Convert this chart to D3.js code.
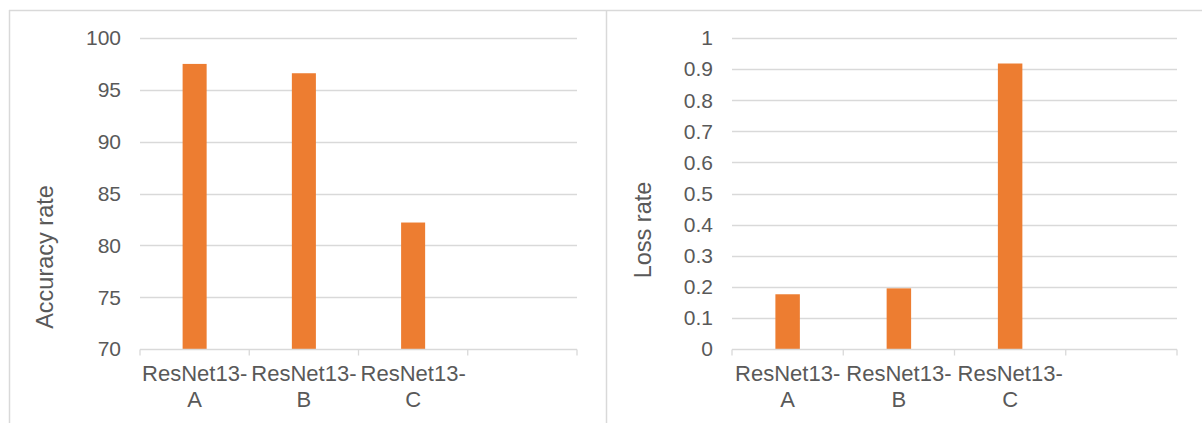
<!DOCTYPE html>
<html>
<head>
<meta charset="utf-8">
<script src="https://cdn.jsdelivr.net/npm/d3@7"></script>
<style>
  html, body { margin: 0; padding: 0; background: #fff; }
  svg { display: block; }
  text { font-family: "Liberation Sans", Arial, sans-serif; fill: #595959; }
</style>
</head>
<body>
<svg id="chart" width="1202" height="423"></svg>
<script>
// Categories (the fourth slot is an empty category, as in the source workbook)
const categories = ["ResNet13-A", "ResNet13-B", "ResNet13-C", ""];
const accuracyValues = [97.5, 96.6, 82.2];
const lossValues = [0.176, 0.195, 0.918];
const accuracyTicks = [70, 75, 80, 85, 90, 95, 100];
const lossTicks = [0, 0.1, 0.2, 0.3, 0.4, 0.5, 0.6, 0.7, 0.8, 0.9, 1];

const svg = d3.select("#chart");
const grid = "#d9d9d9";
const barColor = "#ed7d31";

// Panel frames
svg.append("line").attr("x1", 9).attr("x2", 1202).attr("y1", 10.5).attr("y2", 10.5)
  .attr("stroke", grid).attr("stroke-width", 1.5);
svg.append("line").attr("x1", 9.5).attr("x2", 9.5).attr("y1", 10).attr("y2", 423)
  .attr("stroke", grid).attr("stroke-width", 1.5);
svg.append("line").attr("x1", 606.5).attr("x2", 606.5).attr("y1", 10).attr("y2", 423)
  .attr("stroke", grid).attr("stroke-width", 1.5);

function panel(opts) {
  const g = svg.append("g");
  const x = d3.scaleBand().domain(categories).range([opts.left, opts.right]).padding(0);
  const y = d3.scaleLinear().domain(opts.domain).range([349, 38]);

  // Horizontal gridlines (the baseline is drawn with the category axis)
  g.selectAll(".grid").data(opts.ticks.slice(1)).join("line")
    .attr("x1", opts.left).attr("x2", opts.right)
    .attr("y1", d => Math.round(y(d)) + 0.5).attr("y2", d => Math.round(y(d)) + 0.5)
    .attr("stroke", grid).attr("stroke-width", 1.3);

  // Value tick labels
  g.selectAll(".ylab").data(opts.ticks).join("text")
    .attr("x", opts.left - 19).attr("y", d => y(d))
    .attr("dy", "0.35em").attr("text-anchor", "end")
    .style("font-size", "21px")
    .text(opts.format);

  // Bars
  const barW = x.bandwidth() * 0.22;
  g.selectAll(".bar").data(opts.values).join("rect")
    .attr("x", (d, i) => x(categories[i]) + (x.bandwidth() - barW) / 2)
    .attr("width", barW)
    .attr("y", d => y(d))
    .attr("height", d => y(opts.domain[0]) - y(d))
    .attr("fill", barColor);

  // Category axis: baseline and ticks on band boundaries
  const base = Math.round(y(opts.domain[0])) + 0.5;
  g.append("line").attr("x1", opts.left).attr("x2", opts.right)
    .attr("y1", base).attr("y2", base).attr("stroke", grid).attr("stroke-width", 1.3);
  const bounds = categories.map(c => x(c)).concat([opts.right]);
  g.selectAll(".xtick").data(bounds).join("line")
    .attr("x1", d => d).attr("x2", d => d)
    .attr("y1", base).attr("y2", base + 6)
    .attr("stroke", grid).attr("stroke-width", 1.3);

  // Category labels, broken after the hyphen
  const labels = g.selectAll(".xlab").data(categories.filter(c => c)).join("text")
    .attr("text-anchor", "middle")
    .style("font-size", "22px");
  labels.each(function(c) {
    const cx = x(c) + x.bandwidth() / 2;
    const parts = c.split("-");
    const t = d3.select(this);
    t.append("tspan").attr("x", cx).attr("y", 381).text(parts[0] + "-");
    t.append("tspan").attr("x", cx).attr("y", 407).text(parts[1]);
  });

  // Axis title
  g.append("text")
    .attr("transform", `translate(${opts.titleX},${opts.titleY}) rotate(-90)`)
    .attr("text-anchor", "middle").attr("dy", "0.35em")
    .style("font-size", "23.5px")
    .text(opts.title);
}

panel({
  left: 140, right: 577, domain: [70, 100], ticks: accuracyTicks,
  values: accuracyValues, format: d3.format("d"),
  title: "Accuracy rate", titleX: 45, titleY: 257
});

panel({
  left: 732, right: 1177, domain: [0, 1], ticks: lossTicks,
  values: lossValues, format: d => d3.format("~g")(d),
  title: "Loss rate", titleX: 643, titleY: 230
});
</script>
</body>
</html>
